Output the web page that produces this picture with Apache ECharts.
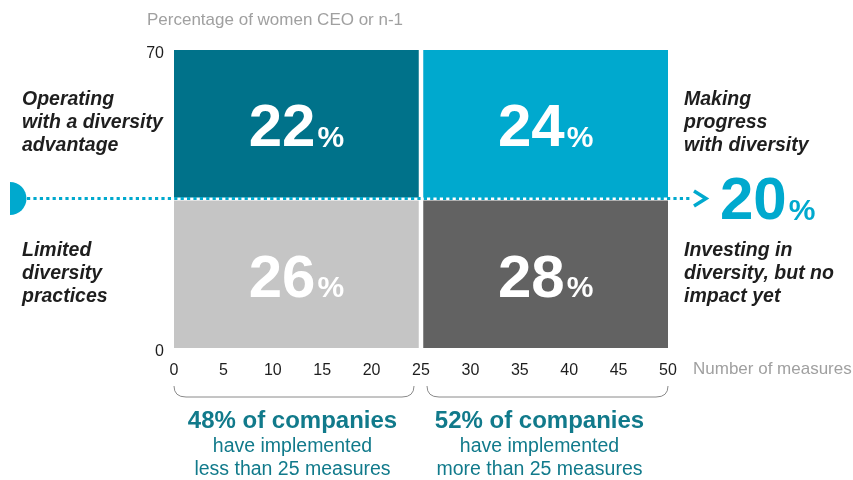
<!DOCTYPE html>
<html>
<head>
<meta charset="utf-8">
<script src="https://cdn.jsdelivr.net/npm/echarts@6/dist/echarts.min.js"></script>
<style>
  html, body { margin: 0; padding: 0; background: #ffffff; }
  #chart { width: 853px; height: 480px; }
</style>
</head>
<body>
<div id="chart"></div>
<script>
// ---- data ----
const quadrantNames = [
  'Operating\nwith a diversity\nadvantage',
  'Making\nprogress\nwith diversity',
  'Limited\ndiversity\npractices',
  'Investing in\ndiversity, but no\nimpact yet'
];
const quadrantShares = [22, 24, 26, 28];          // % of companies in each quadrant
const quadrantMeasures = [[0, 25], [25, 50], [0, 25], [25, 50]];
const quadrantWomen = [[35, 70], [35, 70], [0, 35], [0, 35]];
const womenThreshold = 35;                         // split line on the women axis
const thresholdShare = 20;                         // % shown at the arrow
const groupMeasures = [[0, 25], [25, 50]];
const groupShares = [48, 52];
const groupLines = [
  ['have implemented', 'less than 25 measures'],
  ['have implemented', 'more than 25 measures']
];
const measureAxis = { min: 0, max: 50, interval: 5 };
const womenAxis = { min: 0, max: 70, interval: 70 };
const axisTitles = { y: 'Percentage of women CEO or n-1', x: 'Number of measures' };

// ---- style ----
const FONT = '"Liberation Sans", Arial, Helvetica, sans-serif';
const QUAD_COLORS = ['#00728A', '#00A9CE', '#C5C5C5', '#626262'];
const ACCENT = '#00A9CE';
const GROUP_TEAL = '#117A8B';
const TITLE_GREY = '#A0A0A0';
const INK = '#1E1E1E';

function percentRich(color) {
  return {
    n: { fontSize: 60, fontWeight: 'bold', fontFamily: FONT, fill: color, lineHeight: 60, verticalAlign: 'bottom' },
    p: { fontSize: 30, fontWeight: 'bold', fontFamily: FONT, fill: color, lineHeight: 30, verticalAlign: 'bottom', padding: [0, 0, 6, 2] }
  };
}

const chart = echarts.init(document.getElementById('chart'), null, { renderer: 'canvas' });

const quadrantData = quadrantShares.map((s, i) => [
  quadrantMeasures[i][0], quadrantWomen[i][0], quadrantMeasures[i][1], quadrantWomen[i][1], s
]);

const option = {
  animation: false,
  backgroundColor: '#ffffff',
  grid: { left: 174, right: 185, top: 50, bottom: 132, containLabel: false },
  xAxis: {
    type: 'value',
    min: measureAxis.min, max: measureAxis.max, interval: measureAxis.interval,
    axisLine: { show: false }, axisTick: { show: false }, splitLine: { show: false },
    axisLabel: { fontFamily: FONT, fontSize: 16, color: INK, margin: 15 }
  },
  yAxis: {
    type: 'value',
    min: womenAxis.min, max: womenAxis.max, interval: womenAxis.interval,
    axisLine: { show: false }, axisTick: { show: false }, splitLine: { show: false },
    axisLabel: { fontFamily: FONT, fontSize: 16, color: INK, margin: 10, verticalAlign: 'top', lineHeight: 8 }
  },
  graphic: [
    { type: 'text', left: 147, top: 12, style: { text: axisTitles.y, font: '17px ' + FONT, fill: TITLE_GREY } },
    { type: 'text', left: 693, top: 361, style: { text: axisTitles.x, font: '17px ' + FONT, fill: TITLE_GREY } }
  ],
  series: [
    {
      // quadrant blocks with their share and name
      type: 'custom',
      coordinateSystem: 'cartesian2d',
      encode: { x: [0, 2], y: [1, 3] },
      data: quadrantData,
      clip: false,
      renderItem(params, api) {
        const i = params.dataIndex;
        const x0 = api.value(0), y0 = api.value(1), x1 = api.value(2), y1 = api.value(3);
        const tl = api.coord([x0, y1]);
        const br = api.coord([x1, y0]);
        const gx = 2.25, gy = 1.4;
        const left = tl[0] + (x0 > measureAxis.min ? gx : 0);
        const right = br[0] - (x1 < measureAxis.max ? gx : 0);
        const top = tl[1] + (y1 < womenAxis.max ? gy : 0);
        const bottom = br[1] - (y0 > womenAxis.min ? gy : 0);
        const cx = (left + right) / 2;
        const cy = (top + bottom) / 2;
        const gridLeft = api.coord([measureAxis.min, 0])[0];
        const gridRight = api.coord([measureAxis.max, 0])[0];
        const onLeft = x0 === measureAxis.min;
        return {
          type: 'group',
          children: [
            {
              type: 'rect',
              shape: { x: left, y: top, width: right - left, height: bottom - top },
              style: { fill: QUAD_COLORS[i] }
            },
            {
              type: 'text',
              x: cx, y: cy + 6,
              style: {
                text: '{n|' + api.value(4) + '}{p|%}',
                rich: percentRich('#ffffff'),
                align: 'center', verticalAlign: 'middle'
              }
            },
            {
              type: 'text',
              x: onLeft ? gridLeft - 152 : gridRight + 16,
              y: cy - 1,
              style: {
                text: quadrantNames[i],
                font: 'italic bold 19.5px ' + FONT,
                lineHeight: 23,
                fill: INK,
                align: 'left', verticalAlign: 'middle'
              }
            }
          ]
        };
      },
      z: 2
    },
    {
      // dotted threshold line, start cap, arrow and share
      type: 'custom',
      coordinateSystem: 'cartesian2d',
      data: [[measureAxis.min, womenThreshold, thresholdShare]],
      clip: false,
      renderItem(params, api) {
        const y = api.coord([0, api.value(1)])[1] - 0.5;
        const gl = api.coord([measureAxis.min, 0])[0];
        const gr = api.coord([measureAxis.max, 0])[0];
        return {
          type: 'group',
          children: [
            {
              type: 'sector',
              shape: { cx: gl - 164, cy: y, r0: 0, r: 16.5, startAngle: -Math.PI / 2, endAngle: Math.PI / 2 },
              style: { fill: ACCENT }
            },
            {
              type: 'line',
              shape: { x1: gl - 147, y1: y, x2: gr + 24, y2: y },
              style: { stroke: ACCENT, lineWidth: 3.2, lineDash: [3.2, 3.2] }
            },
            {
              type: 'polyline',
              shape: { points: [[gr + 26, y - 7.5], [gr + 38, y], [gr + 26, y + 7.5]] },
              style: { stroke: ACCENT, lineWidth: 3.5, fill: null }
            },
            {
              type: 'text',
              x: gr + 52, y: y + 4,
              style: {
                text: '{n|' + api.value(2) + '}{p|%}',
                rich: percentRich(ACCENT),
                align: 'left', verticalAlign: 'middle'
              }
            }
          ]
        };
      },
      z: 3
    },
    {
      // braces and company shares under the measures axis
      type: 'custom',
      coordinateSystem: 'cartesian2d',
      encode: { x: [0, 1] },
      data: groupMeasures.map((g, i) => [g[0], g[1], groupShares[i]]),
      clip: false,
      renderItem(params, api) {
        const i = params.dataIndex;
        const x0 = api.value(0), x1 = api.value(1);
        const base = api.coord([x0, womenAxis.min])[1];
        let xa = api.coord([x0, 0])[0];
        let xb = api.coord([x1, 0])[0];
        if (x0 > measureAxis.min) xa += 6;
        if (x1 < measureAxis.max) xb -= 7;
        const top = base + 38, bot = base + 49;
        const cx = (api.coord([x0, 0])[0] + api.coord([x1, 0])[0]) / 2 - 5;
        const path = 'M' + xa + ',' + top + ' Q' + xa + ',' + bot + ' ' + (xa + 12) + ',' + bot +
          ' L' + (xb - 12) + ',' + bot + ' Q' + xb + ',' + bot + ' ' + xb + ',' + top;
        return {
          type: 'group',
          children: [
            {
              type: 'path',
              shape: { pathData: path },
              style: { stroke: '#8A8A8A', lineWidth: 1, fill: null }
            },
            {
              type: 'text',
              x: cx, y: base + 73,
              style: {
                text: api.value(2) + '% of companies',
                font: 'bold 24px ' + FONT, fill: GROUP_TEAL,
                align: 'center', verticalAlign: 'middle'
              }
            },
            {
              type: 'text',
              x: cx, y: base + 99,
              style: {
                text: groupLines[i][0],
                font: '19.5px ' + FONT, fill: GROUP_TEAL,
                align: 'center', verticalAlign: 'middle'
              }
            },
            {
              type: 'text',
              x: cx, y: base + 122,
              style: {
                text: groupLines[i][1],
                font: '19.5px ' + FONT, fill: GROUP_TEAL,
                align: 'center', verticalAlign: 'middle'
              }
            }
          ]
        };
      },
      z: 1
    }
  ]
};

chart.setOption(option);
</script>
</body>
</html>
